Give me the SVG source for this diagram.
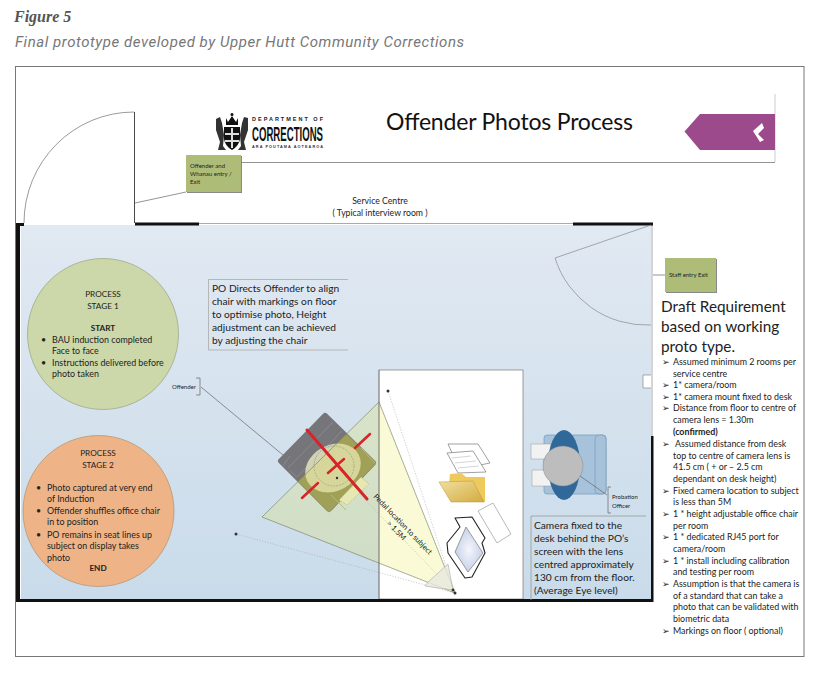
<svg xmlns="http://www.w3.org/2000/svg" width="822" height="673" viewBox="0 0 822 673" style="font-family:Lato,'Liberation Sans',sans-serif">
<style>
text{fill:#222}
.c{text-anchor:middle}
.s{font-size:8.200px}
.sc{font-size:8.700px}
.r{font-size:8.900px}
.t{font-size:6px}
.h{font-size:15.300px}
.b{font-size:10.200px}
.q{font-size:8.900px}
.thin{fill:none;stroke:#666;stroke-width:.7}
.wall{fill:#111}
.box{fill:#adbd78;filter:url(#sh)}
.dot{fill:#333}
.dash{fill:none;stroke:#aaa;stroke-width:.6;stroke-dasharray:1.2 1.5}
</style>
<defs>
<linearGradient id="room" x1="0" y1="0" x2="0" y2="1"><stop offset="0" stop-color="#e1e9f2"/><stop offset="1" stop-color="#c9dbea"/></linearGradient>
<linearGradient id="folder" x1="0" y1="0" x2="1" y2="1"><stop offset="0" stop-color="#efe0a0"/><stop offset="1" stop-color="#d3ab3f"/></linearGradient>
<radialGradient id="screen"><stop offset="0" stop-color="#f4f6fb"/><stop offset="1" stop-color="#c7d1e8"/></radialGradient>
<filter id="sh" x="-10%" y="-10%" width="120%" height="120%"><feDropShadow dx="1" dy="1" stdDeviation=".6" flood-color="#888"/></filter>
</defs>
<rect width="822" height="673" fill="#fff"/>
<text x="14" y="22" style="font-family:'Liberation Serif',serif;font-size:16px;font-weight:bold;font-style:italic;fill:#555">Figure 5</text>
<text x="15" y="47" textLength="449" style="font-family:Roboto,sans-serif;font-size:15px;font-style:italic;fill:#777">Final prototype developed by Upper Hutt Community Corrections</text>
<rect x="15.500" y="66.500" width="788.500" height="590" fill="#fff" stroke="#777"/>
<g id="room-shell">
<rect x="21" y="225" width="630" height="374" fill="url(#room)"/>
<rect x="379" y="370" width="144" height="229" fill="#fff" stroke="#777" stroke-width=".7"/>
<path d="M199 223.500H652V437" fill="none" stroke="#aaa"/>
<path class="wall" d="M16 223h8v3h-4v373h631V436h2.500v166H16z"/>
<rect class="wall" x="135" y="222.500" width="64" height="3"/>
<rect class="wall" x="573" y="222.500" width="80" height="3"/>
<path d="M651 375H643V388H651" fill="#fff" stroke="#777" stroke-width=".6"/>
</g>
<g id="header">
<path d="M241 162.500H775" fill="none" stroke="#777" stroke-width=".8"/>
<path d="M775 94V162" stroke="#ccc" fill="none"/>
<path d="M684.500 131.500L700 114H775V150H700z" fill="#9c4a8c"/>
<path d="M753 131L762 123L764 128L758 134L764 140L760 142z" fill="#fff"/>
<text x="386" y="130" textLength="247" style="font-size:23px;fill:#111">Offender Photos Process</text>
</g>
<g id="logo">
<path d="M224 127H240V139Q239 146 232 150Q225 146 224 139z" fill="#111"/>
<path d="M226 118L228 122L232 116L236 122L238 118L238 125H226z" fill="#111"/>
<path d="M216 119L220 117L222 123L224 135L223 146L226 150H218L220 142L216 130z" fill="#333"/>
<path d="M248 118L244 117L242 123L240 135L241 146L238 150H246L244 142L248 130z" fill="#333"/>
<path d="M231 128H233V148H231zM225 133H239V135H225zM225 140H239V142H225z" fill="#ddd"/>
<circle cx="232" cy="114.500" r="1.500" fill="#111"/>
<text x="252" y="121" textLength="71" lengthAdjust="spacing" style="font-size:5.500px;font-weight:bold;fill:#222;font-family:'Liberation Sans',sans-serif">DEPARTMENT OF</text>
<text x="252" y="140.500" textLength="71" lengthAdjust="spacingAndGlyphs" style="font-family:'Liberation Sans',sans-serif;font-size:21px;font-weight:bold;fill:#111">CORRECTIONS</text>
<text x="252" y="148" textLength="71" lengthAdjust="spacing" style="font-family:'Liberation Sans',sans-serif;font-size:3.800px;font-weight:bold;fill:#333">ARA POUTAMA AOTEAROA</text>
</g>
<g id="connectors">
<path class="thin" d="M135 203L186 192M201 387L283 455M653 275H665" />
<path d="M134.500 112V223" stroke="#333" stroke-width=".9" fill="none"/>
<path d="M134 112A110 111 0 0 0 24 223" fill="none" stroke="#555" stroke-width=".6"/>
<path d="M651 225L555 258A96 96 0 0 0 651 325" fill="none" stroke="#888" stroke-width=".7"/>
<path d="M196 378H200V395H196" class="thin"/>
<path class="dash" d="M388 391L455 593M236 534L455 593M349 483L455 593"/>
</g>
<g id="entry-node"><rect class="box" x="186" y="155" width="55" height="37"/><text class="t" x="190" y="168">Offender and</text><text class="t" x="190" y="176">Whanau entry /</text><text class="t" x="190" y="184">Exit</text></g>
<g id="staff-node"><rect class="box" x="665" y="258" width="51" height="34"/><text class="t" x="669" y="277">Staff entry Exit</text></g>
<text class="sc c" x="380" y="204">Service Centre</text>
<text class="sc c" x="380" y="216">( Typical interview room )</text>
<g id="stage-1">
<circle cx="103" cy="334" r="75.500" fill="#ccd8a9" stroke="#8d9a70" stroke-width=".6"/>
<g class="s"><text class="c" x="103" y="297">PROCESS</text><text class="c" x="103" y="309">STAGE 1</text><text class="c" x="103" y="331" font-weight="bold">START</text></g>
<g class="r"><text x="52" y="343">BAU induction completed</text><text x="52" y="354">Face to face</text><text x="52" y="366">Instructions delivered before</text><text x="52" y="377">photo taken</text><text x="41" y="343">•</text><text x="41" y="366">•</text></g>
</g>
<g id="stage-2">
<circle cx="98.500" cy="511" r="75.500" fill="#eeb487" stroke="#a98862" stroke-width=".6"/>
<g class="s"><text class="c" x="98" y="456">PROCESS</text><text class="c" x="98" y="468">STAGE 2</text><text class="c" x="98" y="571" font-weight="bold">END</text></g>
<g class="r"><text x="47" y="491">Photo captured at very end</text><text x="47" y="502">of Induction</text><text x="47" y="514">Offender shuffles office chair</text><text x="47" y="525">in to position</text><text x="47" y="538">PO remains in seat lines up</text><text x="47" y="549">subject on display  takes</text><text x="47" y="561">photo</text><text x="36" y="491">•</text><text x="36" y="514">•</text><text x="36" y="538">•</text></g>
</g>
<g id="po-directs">
<path d="M348 279.500H208.500V350H348" fill="none" stroke="#aaa" stroke-width=".8"/>
<g class="b"><text x="212" y="292">PO Directs Offender to align</text><text x="212" y="305">chair with markings on floor</text><text x="212" y="318">to optimise photo,  Height</text><text x="212" y="331">adjustment can be achieved</text><text x="212" y="344">by adjusting the chair</text></g>
</g>
<g id="offender-label"><text class="t" x="172" y="389">Offender</text></g>
<g id="offender-chair">
<path d="M325 416L281 461L329 509L373 463z" fill="#76767a" stroke="#76767a" stroke-linejoin="round" stroke-width="6"/>
<path d="M346 434L376 463L329 512L298 481z" fill="#8f8f60"/>
<path d="M333 422L288 468M342 431L297 477M283 466L290 456M297 477L290 471" stroke="#96969a" stroke-width=".6" fill="none"/>
<path d="M331 495L346 510M361 448L375 463" stroke="#b0b08a" stroke-width="1" fill="none"/>
<ellipse cx="333" cy="468" rx="29" ry="23" fill="#d2d3b4" transform="rotate(-28 333 468)"/>
<circle cx="334" cy="466" r="20" fill="none" stroke="#777" stroke-width=".5" stroke-dasharray="2 1"/>
<path d="M339 500L361 477L369 484L347 505z" fill="#e8e8d0" stroke="#999" stroke-width=".5" stroke-dasharray="2 1"/>
</g>
<g id="camera-view">
<path d="M379 402L262 517L455 593z" fill="#e6e638" fill-opacity=".2" stroke="#70785a" stroke-width=".6"/>
<path d="M379 370V599" stroke="#777" stroke-width=".7"/>
<path d="M448 564L453 590L425 586L428 582z" fill="#e8e8de" fill-opacity=".8" stroke="#aaa" stroke-width=".6"/>
<circle class="dot" cx="388" cy="391" r="1.500"/><circle class="dot" cx="236" cy="534" r="1.500"/><circle class="dot" cx="453" cy="590" r="1.500"/><circle class="dot" cx="455" cy="593" r="1.500"/><circle class="dot" cx="337" cy="478" r="1.200"/>
<g transform="translate(401 526) rotate(46)"><text class="t c" x="0" y="0" style="font-size:7.500px">Pedal location to subject</text><text class="t c" x="0" y="9" style="font-size:7.500px">&gt; 1.5M</text></g>
</g>
<g id="red-marks" stroke="#d8232a" stroke-linecap="round" fill="none"><path stroke-width="3" d="M307 430L367 499"/><path stroke-width="2.500" d="M302 498L318 483M355 448L370 434M328 473L344 459"/></g>
<g id="desk-items">
<path d="M448 444H478L490 463L480 465L458 466z" fill="#fff" stroke="#777" stroke-width=".7"/>
<path d="M447 453L473 451L486 472L458 473z" fill="#fff" stroke="#777" stroke-width=".7"/>
<path d="M452 458L471 456M455 463L476 461M458 468L479 466" stroke="#bbb" stroke-width=".6" fill="none"/>
<path d="M449 483L450 474L461 473L466 477L485 477V502H456z" fill="#eec95c"/>
<path d="M439 482L473 481L484 502H451z" fill="url(#folder)" stroke="#b9963c" stroke-width=".5"/>
<path d="M493 503L478 511L497 543L511 534z" fill="#fff" stroke="#888" stroke-width=".6"/>
<path d="M455 518L472 517L485 538L482 543L485 553L472 577L465 578L448 553L447 543L460 527z" fill="#fff" stroke="#222" stroke-width="1.100" stroke-linejoin="round"/>
<path d="M466 527L483 553L468 572L455 552z" fill="url(#screen)" stroke="#777" stroke-width=".7"/>
</g>
<g id="probation-officer">
<rect x="544" y="435" width="62" height="59" rx="3" fill="#a7c3dc" stroke="#7f9fbd" stroke-width=".8"/>
<rect x="595" y="435" width="11" height="59" rx="4" fill="#a6c2da" stroke="#7f9fbd" stroke-width=".8"/>
<rect x="531" y="444" width="20" height="15" fill="#f2f2f2" stroke="#999" stroke-width=".5"/>
<rect x="532" y="470" width="20" height="16" fill="#f2f2f2" stroke="#999" stroke-width=".5"/>
<ellipse cx="564" cy="465" rx="16" ry="35" fill="#2f6899"/>
<circle cx="563" cy="466" r="20" fill="#bdbdbd" stroke="#7f8a94" stroke-width=".5"/>
<path class="thin" d="M580 476L607 495M611 487H608V513H611"/>
<text class="t" x="612" y="499">Probation</text><text class="t" x="612" y="508">Officer</text>
</g>
<g id="camera-note">
<path d="M646 516H531V600" fill="none" stroke="#999" stroke-width=".8"/>
<g class="b"><text x="534" y="529">Camera fixed to the</text><text x="534" y="542">desk behind  the PO’s</text><text x="534" y="555">screen with the lens</text><text x="534" y="568">centred approximately</text><text x="534" y="581">130 cm from the floor.</text><text x="534" y="594">(Average Eye level)</text></g>
</g>
<g id="requirements">
<g class="h"><text x="661" y="312">Draft Requirement</text><text x="661" y="332">based on working</text><text x="661" y="352">proto type.</text></g>
<g class="q">
<text x="662" y="365">➢</text><text x="673" y="365">Assumed minimum 2 rooms per</text><text x="673" y="377">service centre</text>
<text x="662" y="388">➢</text><text x="673" y="388">1* camera/room</text>
<text x="662" y="400">➢</text><text x="673" y="400">1* camera mount fixed to desk</text>
<text x="662" y="411">➢</text><text x="673" y="411">Distance from floor to centre of</text><text x="673" y="423">camera lens = 1.30m</text><text x="673" y="435" font-weight="bold">(confirmed)</text>
<text x="662" y="447">➢</text><text x="675" y="447">Assumed distance from desk</text><text x="673" y="459">top to centre of camera lens is</text><text x="673" y="470">41.5 cm ( + or – 2.5 cm</text><text x="673" y="482">dependant on desk height)</text>
<text x="662" y="494">➢</text><text x="673" y="494">Fixed camera location to subject</text><text x="673" y="505">is less than 5M</text>
<text x="662" y="517">➢</text><text x="673" y="517">1 * height adjustable office chair</text><text x="673" y="529">per room</text>
<text x="662" y="540">➢</text><text x="673" y="540">1 * dedicated RJ45 port for</text><text x="673" y="552">camera/room</text>
<text x="662" y="564">➢</text><text x="673" y="564">1 * install  including calibration</text><text x="673" y="575">and testing per room</text>
<text x="662" y="587">➢</text><text x="673" y="587">Assumption is that the camera  is</text><text x="673" y="599">of a standard that can take a</text><text x="673" y="610">photo that can be validated with</text><text x="673" y="622">biometric data</text>
<text x="662" y="634">➢</text><text x="673" y="634">Markings on floor ( optional)</text>
</g>
</g>
</svg>
